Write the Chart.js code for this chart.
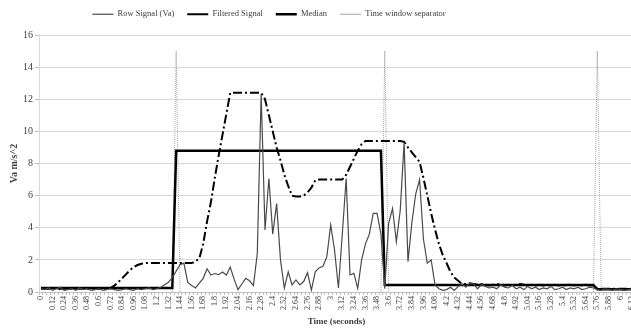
<!DOCTYPE html>
<html>
<head>
<meta charset="utf-8">
<script src="https://cdn.jsdelivr.net/npm/chart.js@4.4.1/dist/chart.umd.min.js"></script>
<style>
  html, body { margin: 0; padding: 0; background: #fff; overflow: hidden; }
  #wrap { width: 634px; height: 329px; }
</style>
</head>
<body>
<div id="wrap"><canvas id="chart"></canvas></div>
<script>
// Time axis (seconds), one category every 0.04 s
const timeLabels = [
  0,0.04,0.08,0.12,0.16,0.2,0.24,0.28,0.32,0.36,0.4,0.44,0.48,0.52,0.56,0.6,0.64,0.68,0.72,0.76,
  0.8,0.84,0.88,0.92,0.96,1,1.04,1.08,1.12,1.16,1.2,1.24,1.28,1.32,1.36,1.4,1.44,1.48,1.52,1.56,
  1.6,1.64,1.68,1.72,1.76,1.8,1.84,1.88,1.92,1.96,2,2.04,2.08,2.12,2.16,2.2,2.24,2.28,2.32,2.36,
  2.4,2.44,2.48,2.52,2.56,2.6,2.64,2.68,2.72,2.76,2.8,2.84,2.88,2.92,2.96,3,3.04,3.08,3.12,3.16,
  3.2,3.24,3.28,3.32,3.36,3.4,3.44,3.48,3.52,3.56,3.6,3.64,3.68,3.72,3.76,3.8,3.84,3.88,3.92,3.96,
  4,4.04,4.08,4.12,4.16,4.2,4.24,4.28,4.32,4.36,4.4,4.44,4.48,4.52,4.56,4.6,4.64,4.68,4.72,4.76,
  4.8,4.84,4.88,4.92,4.96,5,5.04,5.08,5.12,5.16,5.2,5.24,5.28,5.32,5.36,5.4,5.44,5.48,5.52,5.56,
  5.6,5.64,5.68,5.72,5.76,5.8,5.84,5.88,5.92,5.96,6,6.04,6.08,6.12
].map(String);

// Row signal (Va), m/s^2
const rowSignal = [
  0.2,0.15,0.25,0.1,0.2,0.3,0.1,0.15,0.2,0.1,0.25,0.15,0.2,0.1,0.15,0.2,0.1,0.15,0.2,0.15,
  0.1,0.15,0.2,0.15,0.1,0.2,0.15,0.2,0.25,0.15,0.2,0.3,0.45,0.6,0.9,1.3,1.7,1.8,0.6,0.4,
  0.25,0.55,0.85,1.45,1.06,1.15,1.08,1.25,1.06,1.55,0.8,0.15,0.5,0.85,0.7,0.4,2.4,12.36,3.86,7.07,
  3.6,5.5,2.0,0.25,1.26,0.44,0.75,0.44,0.65,1.2,0.12,1.26,1.5,1.6,2.2,4.17,2.6,0.25,3.6,7.07,
  1.06,1.16,0.23,2.0,3.0,3.6,4.9,4.9,3.6,0.2,4.28,5.2,3.13,5.1,9.3,1.89,4.3,6.1,7.0,3.3,
  1.8,2.0,0.44,0.2,0.1,0.15,0.3,0.1,0.35,0.5,0.3,0.55,0.5,0.2,0.45,0.35,0.25,0.3,0.2,0.45,
  0.3,0.25,0.4,0.2,0.3,0.15,0.35,0.2,0.3,0.15,0.25,0.2,0.35,0.15,0.2,0.3,0.15,0.25,0.2,0.3,
  0.15,0.2,0.3,0.25,0.15,0.1,0.2,0.15,0.1,0.2,0.15,0.1,0.15,0.2
];

// Filtered signal
const filteredSignal = [
  0.2,0.2,0.2,0.2,0.2,0.2,0.2,0.2,0.2,0.2,0.2,0.2,0.2,0.2,0.2,0.2,0.2,0.2,0.25,0.4,
  0.6,0.85,1.1,1.35,1.55,1.68,1.76,1.8,1.8,1.8,1.8,1.8,1.8,1.8,1.8,1.8,1.8,1.8,1.8,1.8,
  1.9,2.1,3.0,4.4,5.6,7.1,8.5,9.8,11.1,12.4,12.4,12.4,12.4,12.4,12.4,12.4,12.4,12.4,12.0,11.0,
  10.0,9.0,8.2,7.3,6.6,6.0,5.95,5.95,6.0,6.2,6.5,6.95,7.0,7.0,7.0,7.0,7.0,7.0,7.0,7.3,
  7.8,8.3,8.8,9.2,9.4,9.4,9.4,9.4,9.4,9.4,9.4,9.4,9.4,9.4,9.35,9.0,8.7,8.4,8.1,7.1,
  6.0,4.9,3.9,3.0,2.3,1.8,1.25,0.9,0.7,0.5,0.5,0.55,0.5,0.45,0.5,0.45,0.4,0.45,0.5,0.45,
  0.4,0.45,0.4,0.45,0.5,0.45,0.4,0.45,0.4,0.45,0.4,0.45,0.4,0.45,0.4,0.45,0.4,0.45,0.4,0.45,
  0.4,0.45,0.4,0.4,0.2,0.2,0.2,0.2,0.2,0.2,0.2,0.2,0.2,0.2
];

// Median per time window
const medianSignal = [
  ...Array(35).fill(0.25),
  ...Array(54).fill(8.8),
  ...Array(55).fill(0.44),
  ...Array(10).fill(0.17)
];

// Time window separators (peak categories)
const separatorTimes = ['1.4', '3.56', '5.76'];
const separatorHeight = 15;

const separatorData = timeLabels.map(() => null);
separatorTimes.forEach(t => {
  const i = timeLabels.indexOf(t);
  separatorData[i - 1] = 0;
  separatorData[i] = separatorHeight;
  separatorData[i + 1] = 0;
});

const serif = 'Liberation Serif, Times New Roman, serif';

// Legend sits left of centre and the plot starts lower, as in the original
const legendPlacement = {
  id: 'legendPlacement',
  beforeInit(chart) {
    const fit = chart.legend.fit;
    chart.legend.fit = function () {
      fit.call(this);
      this.height = 35;
    };
  },
  beforeDraw(chart) {
    const legend = chart.legend;
    legend.left = -48;
    legend.right = chart.width - 48;
    legend.top = -3;
  }
};

new Chart(document.getElementById('chart'), {
  type: 'line',
  data: {
    labels: timeLabels,
    datasets: [
      {
        label: 'Row Signal (Va)',
        data: rowSignal,
        borderColor: '#4a4a4a',
        borderWidth: 1.2,
        pointRadius: 0,
        tension: 0
      },
      {
        label: 'Filtered Signal',
        data: filteredSignal,
        borderColor: '#000',
        borderWidth: 2,
        borderDash: [9, 3, 2, 3],
        pointRadius: 0,
        tension: 0
      },
      {
        label: 'Median',
        data: medianSignal,
        borderColor: '#000',
        borderWidth: 2.5,
        pointRadius: 0,
        tension: 0
      },
      {
        label: 'Time window separator',
        data: separatorData,
        borderColor: '#a6a6a6',
        borderWidth: 1,
        borderDash: [1, 1],
        pointRadius: 0,
        spanGaps: false,
        tension: 0
      }
    ]
  },
  options: {
    responsive: true,
    maintainAspectRatio: false,
    animation: false,
    layout: { padding: { left: 0, right: 0, top: 0, bottom: 0 } },
    plugins: {
      legend: {
        display: true,
        position: 'top',
        labels: {
          usePointStyle: true,
          pointStyle: 'line',
          pointStyleWidth: 21,
          boxHeight: 9,
          padding: 13,
          color: '#404040',
          font: { family: serif, size: 8.5 }
        }
      },
      tooltip: { enabled: false }
    },
    scales: {
      x: {
        type: 'category',
        offset: true,
        grid: {
          display: true,
          drawOnChartArea: false,
          drawTicks: true,
          tickLength: 3,
          color: '#bfbfbf',
          offset: true
        },
        border: { display: true, color: '#bfbfbf' },
        ticks: {
          autoSkip: false,
          maxRotation: 90,
          minRotation: 90,
          padding: 1,
          color: '#404040',
          font: { family: serif, size: 8 },
          callback: function (value, index) {
            return index % 3 === 0 ? this.getLabelForValue(value) : '';
          }
        },
        title: {
          display: true,
          text: 'Time (seconds)',
          color: '#404040',
          padding: { top: 0, bottom: 2 },
          font: { family: serif, size: 9, weight: 'bold' }
        },
        afterFit: scale => {
          scale.height = 37;
          scale.paddingLeft = 0;
          scale.paddingRight = 0;
        }
      },
      y: {
        min: 0,
        max: 16,
        grid: {
          color: '#d9d9d9',
          tickLength: 4,
          tickColor: '#bfbfbf'
        },
        border: { display: true, color: '#d9d9d9' },
        ticks: {
          stepSize: 2,
          padding: 2,
          color: '#404040',
          font: { family: serif, size: 10 }
        },
        title: {
          display: true,
          text: 'Va m/s^2',
          color: '#404040',
          padding: { top: 8, bottom: 0 },
          font: { family: serif, size: 10, weight: 'bold' }
        },
        afterFit: scale => { scale.width = 39; }
      }
    }
  },
  plugins: [legendPlacement]
});
</script>
</body>
</html>
